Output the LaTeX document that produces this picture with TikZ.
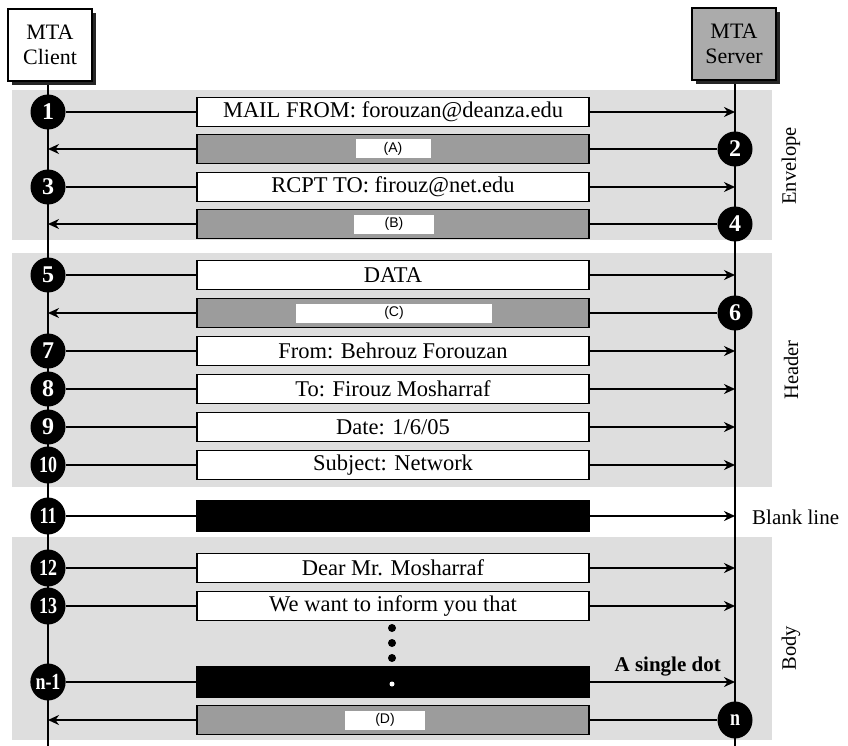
\documentclass[tikz,border=0pt]{standalone}
\usepackage{fontspec}
\setmainfont{Liberation Serif}
\newfontfamily\lsans{Liberation Sans}
\usetikzlibrary{shapes.geometric,arrows.meta,shadows}
\pgfdeclarelayer{bg}\pgfdeclarelayer{lines}
\pgfsetlayers{bg,lines,main}
\definecolor{bandg}{HTML}{DEDEDE}
\definecolor{replyg}{HTML}{9C9C9C}
\definecolor{serverg}{HTML}{ABABAB}
\newcommand{\narrow}[1]{\scalebox{0.78}[1]{#1}}
\begin{document}
\begin{tikzpicture}[x=1pt,y=-1pt,
  entity/.style={draw, line width=1.6pt, fill=white, minimum width=84pt, minimum height=72pt, align=center, inner sep=0pt,
    font=\fontsize{22}{25}\selectfont,
    drop shadow={shadow xshift=4pt, shadow yshift=-4pt, fill=black!85, opacity=1}},
  msg/.style={draw, line width=1.5pt, fill=white, minimum width=392pt, minimum height=29pt, inner sep=0pt,
    font=\fontsize{22.5}{26}\selectfont},
  reply/.style={msg, fill=replyg},
  tagbox/.style={fill=white, minimum height=19pt, inner sep=0pt, font=\lsans\fontsize{14}{16}\selectfont},
  blk/.style={msg, fill=black, minimum height=30pt},
  num/.style={circle, fill=black, text=white, minimum size=35pt, inner sep=0pt, font=\bfseries\fontsize{24}{24}\selectfont},
  numE/.style={ellipse, fill=black, text=white, minimum width=35pt, minimum height=37pt, inner sep=0pt, font=\bfseries\fontsize{23}{23}\selectfont},
  arr/.style={line width=1.8pt, -{Stealth[length=11pt,width=10pt]}},
  life/.style={line width=2pt},
  side/.style={rotate=90, font=\fontsize{20.5}{24}\selectfont},
  bigdot/.style={circle, fill=black, minimum size=8pt, inner sep=0pt}
]
\useasboundingbox (0,0) rectangle (848,746);

% shaded regions
\begin{pgfonlayer}{bg}
  \fill[bandg] (12,90) rectangle (772,240);
  \fill[bandg] (12,253) rectangle (772,487);
  \fill[bandg] (12,537) rectangle (772,740);
\end{pgfonlayer}

% entities
\node[entity] (client) at (50,45) {MTA\\Client};
\node[entity, fill=serverg] (server) at (734,44) {MTA\\Server};
\coordinate (cend) at (48,746);
\coordinate (send) at (735,746);
\begin{pgfonlayer}{lines}
  \draw[life] (client.south -| cend) -- (cend);
  \draw[life] (server.south -| send) -- (send);
\end{pgfonlayer}

% message boxes
\node[msg] (m1) at (393,112) {MAIL FROM: forouzan@deanza.edu};
\node[reply] (m2) at (393,149) {};
\node[tagbox, minimum width=75pt] (t2) at (393,149) {(A)};
\node[msg] (m3) at (393,187) {RCPT TO: firouz@net.edu};
\node[reply] (m4) at (393,224) {};
\node[tagbox, minimum width=80pt] (t4) at (394,224) {(B)};
\node[msg] (m5) at (393,275) {DATA};
\node[reply] (m6) at (393,313) {};
\node[tagbox, minimum width=196pt] (t6) at (394,313) {(C)};
\node[msg] (m7) at (393,351) {From: Behrouz Forouzan};
\node[msg] (m8) at (393,389) {To: Firouz Mosharraf};
\node[msg] (m9) at (393,427) {Date: 1/6/05};
\node[msg] (m10) at (393,465) {Subject: Network};
\node[blk] (m11) at (393,516) {};
\node[msg] (m12) at (393,568) {Dear Mr. Mosharraf};
\node[msg] (m13) at (393,606) {We want to inform you that};
\node[blk] (m14) at (393,682) {};
\node[circle, fill=white, minimum size=5pt, inner sep=0pt] (wdot) at (392,684) {};
\node[reply] (m15) at (393,720) {};
\node[tagbox, minimum width=80pt] (t15) at (385,720) {(D)};

% vertical dots
\node[bigdot] (d1) at (392,628) {};
\node[bigdot] (d2) at (392,643) {};
\node[bigdot] (d3) at (392,658) {};

% numbered markers
\node[num] (c1) at (48,112) {1};
\node[num] (c2) at (735,149) {2};
\node[num] (c3) at (48,187) {3};
\node[num] (c4) at (735,224) {4};
\node[num] (c5) at (48,275) {5};
\node[num] (c6) at (735,313) {6};
\node[num] (c7) at (48,351) {7};
\node[num] (c8) at (48,389) {8};
\node[num] (c9) at (48,427) {9};
\node[numE] (c10) at (48,465) {\narrow{10}};
\node[numE] (c11) at (48,516) {\narrow{11}};
\node[numE] (c12) at (48,568) {\narrow{12}};
\node[numE] (c13) at (48,606) {\narrow{13}};
\node[numE] (c14) at (48,682) {\narrow{n-1}};
\node[numE] (c15) at (735,720) {\narrow{n}};

% arrow end points
\foreach \i/\y in {1/112,3/187,5/275,7/351,8/389,9/427,10/465,11/516,12/568,13/606,14/682}
  \coordinate (s\i) at (735,\y);
\foreach \i/\y in {2/149,4/224,6/313,15/720}
  \coordinate (k\i) at (48,\y);

\begin{pgfonlayer}{lines}
  \foreach \i in {1,3,5,7,8,9,10,11,12,13,14}
    \draw[arr] (c\i) -- (s\i);
  \foreach \i in {2,4,6,15}
    \draw[arr] (c\i) -- (k\i);
\end{pgfonlayer}

% labels
\node[side] (lenv) at (791,166) {Envelope};
\node[side] (lhdr) at (791,370) {Header};
\node[side] (lbody) at (791,648) {Body};
\node[anchor=west, font=\fontsize{21}{24}\selectfont, inner sep=0pt] (lblank) at (752,517) {Blank line};
\node[anchor=base east, font=\bfseries\fontsize{21}{24}\selectfont, inner sep=0pt] (ldot) at (721,671) {A single dot};
\end{tikzpicture}
\end{document}
